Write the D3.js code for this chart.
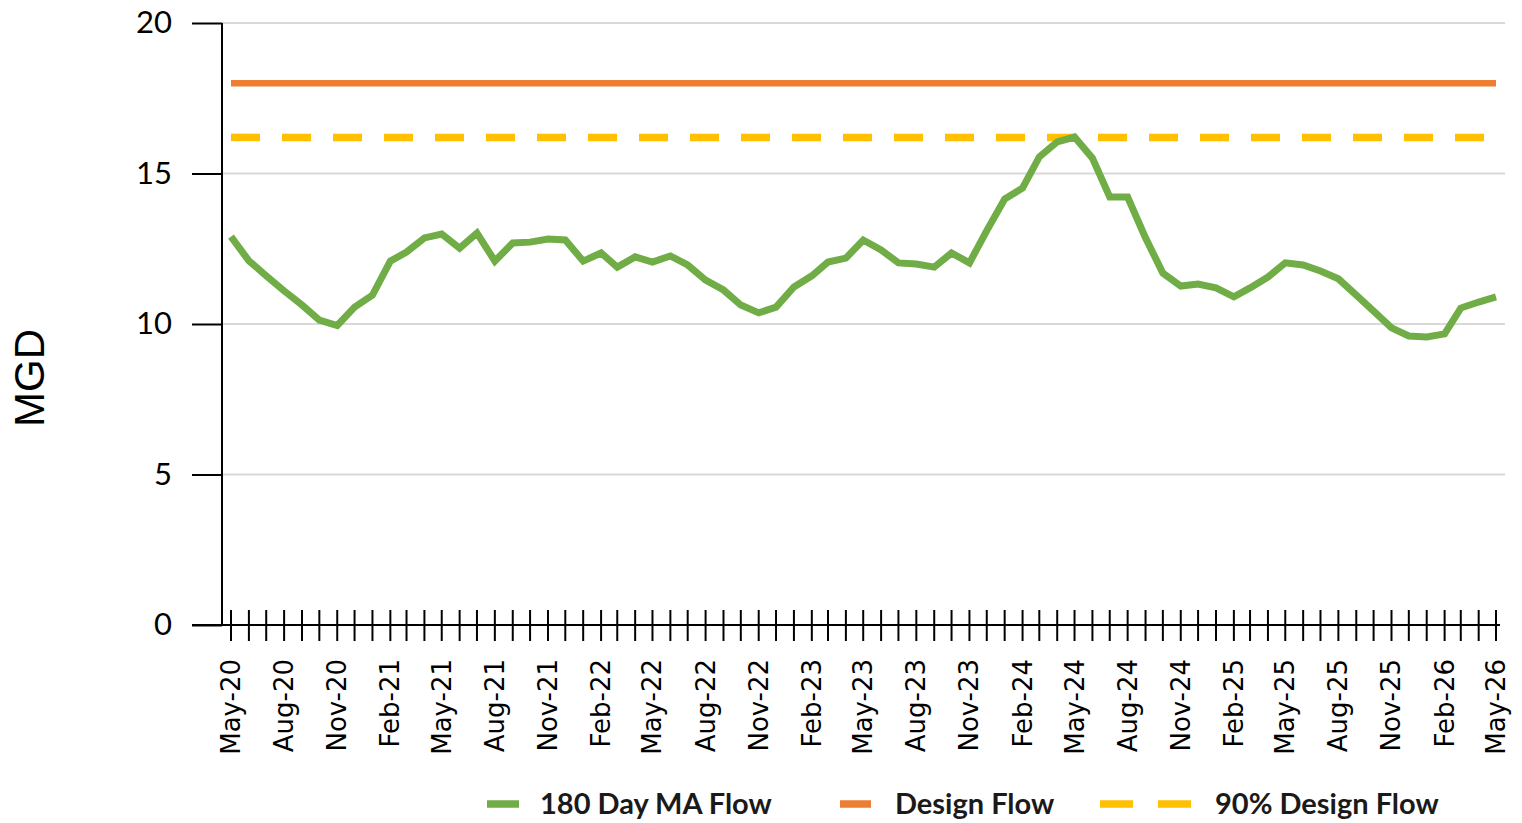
<!DOCTYPE html>
<html>
<head>
<meta charset="utf-8">
<script src="https://cdn.jsdelivr.net/npm/d3@7"></script>
<style>
  html, body { margin: 0; padding: 0; background: #fff; }
  svg { display: block; }
</style>
</head>
<body>
<svg id="chart" width="1522" height="823"></svg>
<script>
// ---- Data ----
const startMonth = "2020-05";
const flow180 = [
  12.9, 12.1, 11.6, 11.1, 10.63, 10.13, 9.95, 10.56, 10.96, 12.09,
  12.39, 12.86, 12.99, 12.52, 13.02, 12.09, 12.69, 12.72, 12.82, 12.79,
  12.09, 12.36, 11.89, 12.23, 12.06, 12.26, 11.96, 11.46, 11.13, 10.63,
  10.37, 10.56, 11.23, 11.6, 12.06, 12.19, 12.79, 12.46, 12.03, 11.99,
  11.89, 12.36, 12.03, 13.1, 14.15, 14.52, 15.55, 16.05, 16.21, 15.51,
  14.22, 14.22, 12.86, 11.69, 11.26, 11.33, 11.2, 10.9, 11.2, 11.56,
  12.03, 11.96, 11.76, 11.5, 10.96, 10.43, 9.87, 9.6, 9.57, 9.67,
  10.53, 10.73, 10.9
];
const designFlow = 18;
const design90Flow = 16.2;
const yTicks = [0, 5, 10, 15, 20];
const seriesNames = ["180 Day MA Flow", "Design Flow", "90% Design Flow"];
const yTitle = "MGD";

// ---- Build month list ----
const parse = d3.timeParse("%Y-%m");
const start = parse(startMonth);
const months = flow180.map((_, i) => d3.timeMonth.offset(start, i));
const fmt = d3.timeFormat("%b-%y");

const colors = { green: "#70AD47", orange: "#ED7D31", yellow: "#FFC000", grid: "#D9D9D9" };

const svg = d3.select("#chart");

const x = d3.scaleTime().domain([months[0], months[months.length - 1]]).range([231, 1496]);
const y = d3.scaleLinear().domain([0, 20]).range([625, 23]);

const axisX = 222, plotRight = 1505;

// Gridlines
svg.append("g").selectAll("line").data(yTicks.filter(t => t > 0)).join("line")
  .attr("x1", axisX).attr("x2", plotRight)
  .attr("y1", d => y(d)).attr("y2", d => y(d))
  .attr("stroke", colors.grid).attr("stroke-width", 2);

// Y axis
const yAxis = d3.axisLeft(y).tickValues(yTicks).tickSize(30).tickPadding(20).tickFormat(d3.format("d"));
const gy = svg.append("g").attr("transform", `translate(${axisX},0)`).call(yAxis);
gy.select(".domain").attr("stroke", "#000").attr("stroke-width", 2).attr("d", `M0,${y(20)}V${y(0)}`);
gy.selectAll(".tick line").attr("stroke", "#000").attr("stroke-width", 2);
gy.selectAll(".tick text").attr("font-family", "Lato, 'Open Sans', sans-serif").attr("font-size", 31).attr("fill", "#000");

// X axis (ticks crossing the axis)
const gx = svg.append("g").attr("transform", `translate(0,${y(0)})`);
gx.append("line").attr("x1", 192).attr("x2", 1500).attr("y1", 0).attr("y2", 0)
  .attr("stroke", "#000").attr("stroke-width", 2);
gx.selectAll("line.tk").data(months).join("line").attr("class", "tk")
  .attr("x1", d => x(d)).attr("x2", d => x(d)).attr("y1", -15).attr("y2", 16)
  .attr("stroke", "#000").attr("stroke-width", 2);
gx.selectAll("text").data(months.filter((d, i) => i % 3 === 0)).join("text")
  .attr("transform", d => `translate(${x(d) + 9},34) rotate(-90)`)
  .attr("text-anchor", "end")
  .attr("font-family", "'DejaVu Sans', sans-serif").attr("font-size", 26).attr("fill", "#000")
  .text(d => fmt(d));

// Y title
svg.append("text").attr("transform", `translate(${44},378) rotate(-90)`)
  .attr("text-anchor", "middle").attr("font-family", "'Liberation Sans', Arial, sans-serif")
  .attr("font-size", 42).attr("fill", "#000").text(yTitle);

// Design flow lines
svg.append("line").attr("x1", x(months[0])).attr("x2", x(months[months.length - 1]))
  .attr("y1", y(designFlow)).attr("y2", y(designFlow))
  .attr("stroke", colors.orange).attr("stroke-width", 6.5);
svg.append("line").attr("x1", x(months[0])).attr("x2", x(months[months.length - 1]))
  .attr("y1", y(design90Flow)).attr("y2", y(design90Flow))
  .attr("stroke", colors.yellow).attr("stroke-width", 7.5).attr("stroke-dasharray", "29,22");

// 180-day MA flow line
const line = d3.line().x((d, i) => x(months[i])).y(d => y(d));
svg.append("path").datum(flow180).attr("d", line)
  .attr("fill", "none").attr("stroke", colors.green).attr("stroke-width", 7)
  .attr("stroke-linejoin", "miter");

// Legend
const legY = 804;
const leg = svg.append("g").attr("font-family", "Lato, 'Open Sans', sans-serif")
  .attr("font-weight", "bold").attr("font-size", 29).attr("fill", "#1a1a1a");
leg.append("line").attr("x1", 487).attr("x2", 519).attr("y1", legY).attr("y2", legY)
  .attr("stroke", colors.green).attr("stroke-width", 7.5);
leg.append("text").attr("x", 540).attr("y", legY).attr("dy", "0.36em").text(seriesNames[0]);
leg.append("line").attr("x1", 840).attr("x2", 871).attr("y1", legY).attr("y2", legY)
  .attr("stroke", colors.orange).attr("stroke-width", 7.5);
leg.append("text").attr("x", 895).attr("y", legY).attr("dy", "0.36em").text(seriesNames[1]);
leg.append("line").attr("x1", 1100).attr("x2", 1194).attr("y1", legY).attr("y2", legY)
  .attr("stroke", colors.yellow).attr("stroke-width", 7.5).attr("stroke-dasharray", "33,25");
leg.append("text").attr("x", 1215).attr("y", legY).attr("dy", "0.36em").text(seriesNames[2]);
</script>
</body>
</html>
